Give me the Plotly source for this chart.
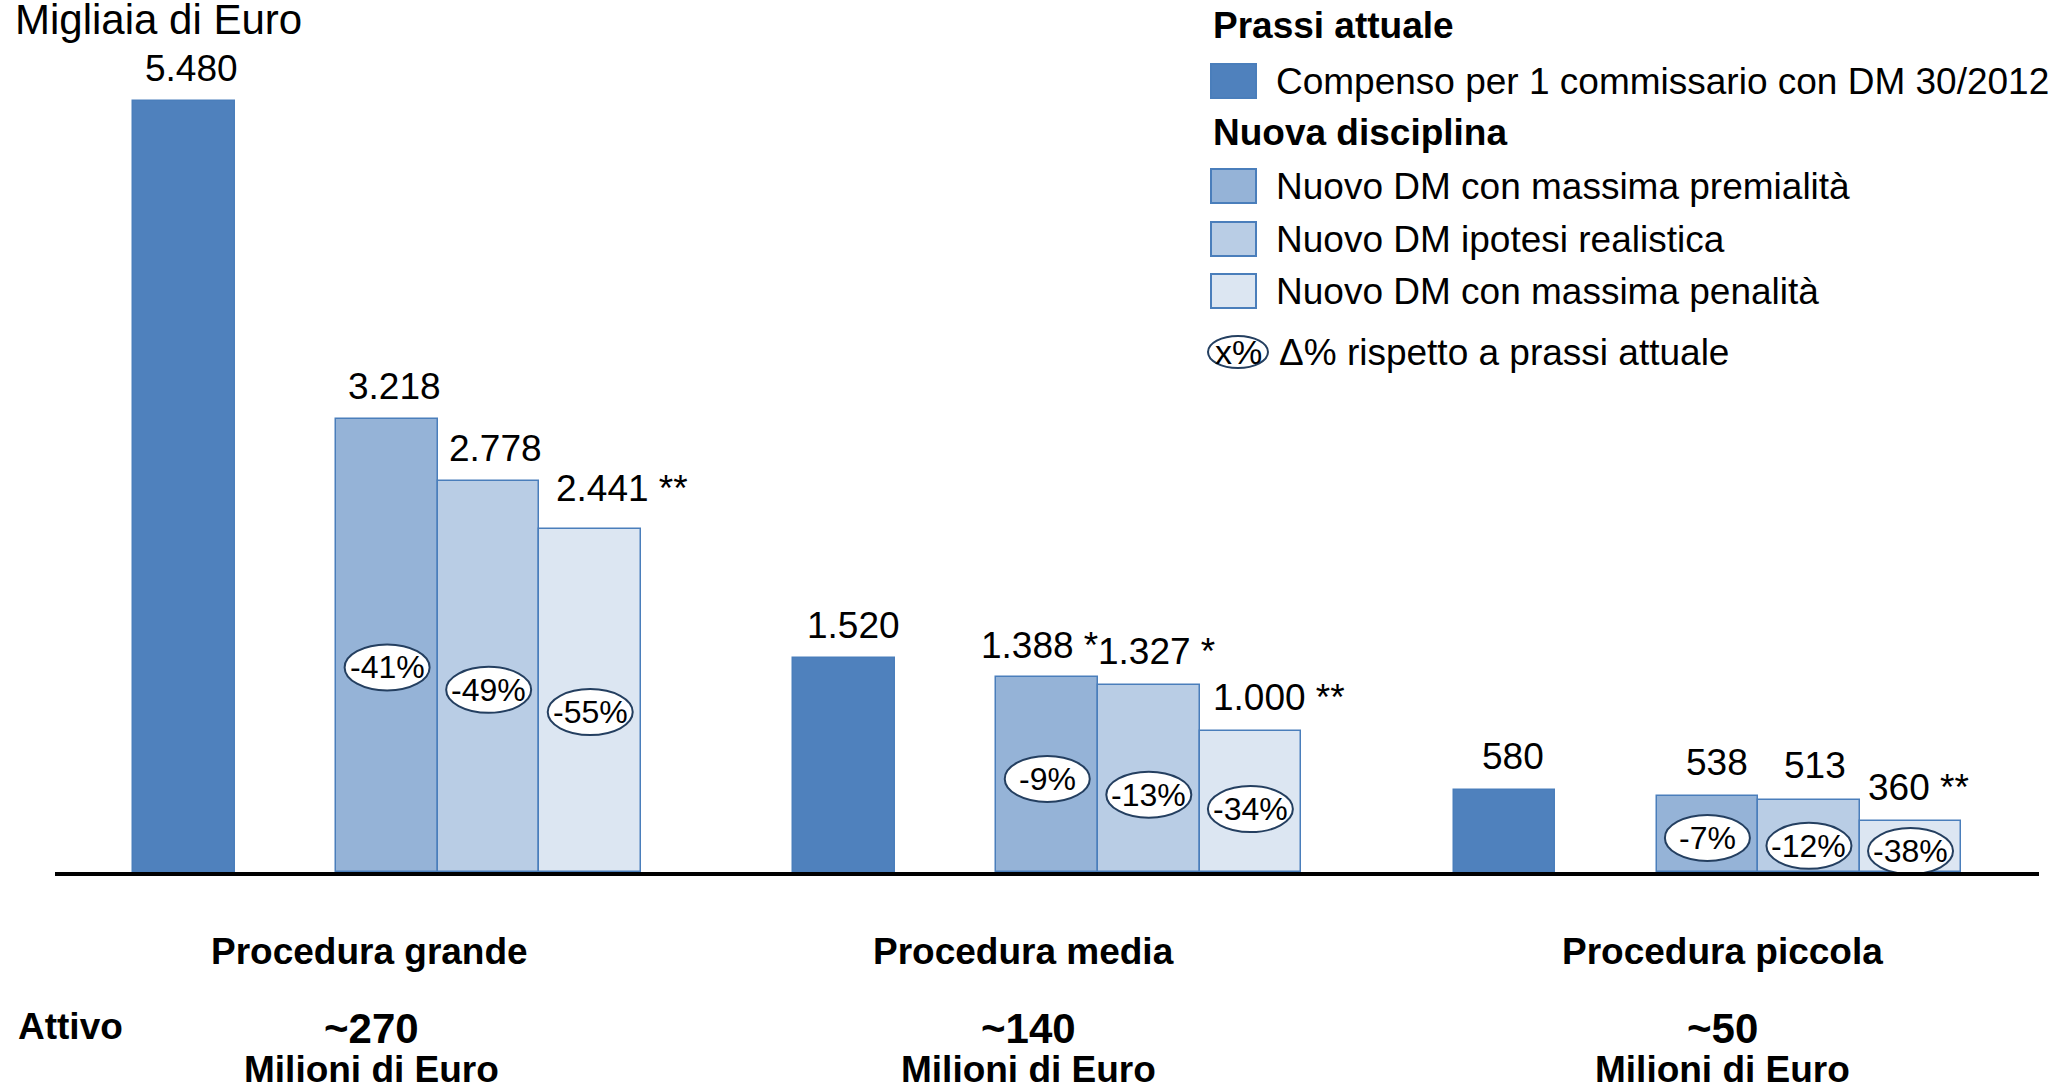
import plotly.graph_objects as go

# ---------------- data ----------------
categories = ["Procedura grande", "Procedura media", "Procedura piccola"]
attivo_values = ["~270", "~140", "~50"]
attivo_unit = "Milioni di Euro"

series_names = [
    "Compenso per 1 commissario con DM 30/2012",
    "Nuovo DM con massima premialità",
    "Nuovo DM ipotesi realistica",
    "Nuovo DM con massima penalità",
]
attuale = [5480, 1520, 580]
premialita = [3218, 1388, 538]
realistica = [2778, 1327, 513]
penalita = [2441, 1000, 360]

delta_premialita = [-41, -9, -7]
delta_realistica = [-49, -13, -12]
delta_penalita = [-55, -34, -38]

note_attuale = ["", "", ""]
note_premialita = ["", " *", ""]
note_realistica = ["", " *", ""]
note_penalita = [" **", " **", " **"]

# ---------------- layout / style constants ----------------
W, H = 2060, 1092
L, R, T, B = 55, 21, 28, 220
PW, PH = W - L - R, H - T - B
XR = [-1.27, 18.265]
YR = [0, 6000]
FONT = "Liberation Sans, Arial, sans-serif"
FS = 37

colors = ["#4F81BD", "#95B3D7", "#B9CDE5", "#DCE6F2"]
edge = "#4A7EBB"
oval_edge = "#243F60"

group_gap = 6.5
series_offset = [0, 2, 3, 4]
# label placement tweaks (pixels) and oval vertical positions (data units)
label_dx = [[5, 5, 5, 10], [7, -22, -7, 7], [7, 7, 4, -14]]
label_dy = [[10, 10, 10, 18], [10, 9, 11, 11], [11, 11, 12, 11]]
oval_y = [[1454, 1295, 1137], [662, 550, 447], [242, 186, 149]]
cat_label_dx = [1.83, 1.77, 2.15]
amount_dx = [1.85, 1.82, 2.15]

series = [attuale, premialita, realistica, penalita]
notes = [note_attuale, note_premialita, note_realistica, note_penalita]
deltas = [None, delta_premialita, delta_realistica, delta_penalita]


def fmt(v):
    return f"{v:,}".replace(",", ".")


def num_width(s, fs):
    w = 0
    for ch in s:
        w += 0.278 if ch == "." else 0.556
    return w * fs


def px(xp):
    return (xp - L) / PW


def py(yp):
    return (H - B - yp) / PH


fig = go.Figure()
annotations = []
shapes = []

for si, vals in enumerate(series):
    xs = [gi * group_gap + series_offset[si] for gi in range(len(categories))]
    fig.add_trace(go.Bar(
        x=xs, y=vals, width=1, name=series_names[si],
        marker=dict(color=colors[si], line=dict(color=edge, width=1.5)),
        hoverinfo="skip", showlegend=False,
    ))
    for gi, v in enumerate(vals):
        s = fmt(v)
        annotations.append(dict(
            x=xs[gi], y=v, xref="x", yref="y", text=s + notes[si][gi],
            showarrow=False, xanchor="left", yanchor="bottom",
            xshift=-num_width(s, FS) / 2 + label_dx[gi][si], yshift=label_dy[gi][si],
            font=dict(family=FONT, size=FS, color="black"),
        ))
        if deltas[si] is not None:
            yc = oval_y[gi][si - 1]
            hw = 42.5 / (PW / (XR[1] - XR[0]))
            hh = 23 / (PH / (YR[1] - YR[0]))
            shapes.append(dict(
                type="circle", xref="x", yref="y",
                x0=xs[gi] - hw, x1=xs[gi] + hw, y0=yc - hh, y1=yc + hh,
                fillcolor="white", line=dict(color=oval_edge, width=2), layer="above",
            ))
            annotations.append(dict(
                x=xs[gi], y=yc, xref="x", yref="y", text=f"{deltas[si][gi]}%",
                showarrow=False, xanchor="center", yanchor="middle",
                font=dict(family=FONT, size=32, color="black"),
            ))

# category labels and assets
for gi, cat in enumerate(categories):
    xc = gi * group_gap + cat_label_dx[gi]
    xa = gi * group_gap + amount_dx[gi]
    annotations.append(dict(x=xc, y=py(951), xref="x", yref="paper", text=f"<b>{cat}</b>",
                            showarrow=False, xanchor="center", yanchor="middle",
                            font=dict(family=FONT, size=FS, color="black")))
    annotations.append(dict(x=xa, y=py(1028), xref="x", yref="paper", text=f"<b>{attivo_values[gi]}</b>",
                            showarrow=False, xanchor="center", yanchor="middle",
                            font=dict(family=FONT, size=42, color="black")))
    annotations.append(dict(x=xa, y=py(1069), xref="x", yref="paper", text=f"<b>{attivo_unit}</b>",
                            showarrow=False, xanchor="center", yanchor="middle",
                            font=dict(family=FONT, size=FS, color="black")))

annotations.append(dict(x=px(16), y=py(1026), xref="paper", yref="paper", text="<b>Attivo</b>",
                        showarrow=False, xanchor="left", yanchor="middle",
                        font=dict(family=FONT, size=FS, color="black")))

# unit title
annotations.append(dict(x=px(13), y=py(34), xref="paper", yref="paper", text="Migliaia di Euro",
                        showarrow=False, xanchor="left", yanchor="bottom", yshift=-11,
                        font=dict(family=FONT, size=42, color="black")))

# custom legend
LX0, LX1 = 1211, 1256
TX = 1274
annotations.append(dict(x=px(LX0), y=py(26), xref="paper", yref="paper", text="<b>Prassi attuale</b>",
                        showarrow=False, xanchor="left", yanchor="middle",
                        font=dict(family=FONT, size=FS, color="black")))
annotations.append(dict(x=px(LX0), y=py(132), xref="paper", yref="paper", text="<b>Nuova disciplina</b>",
                        showarrow=False, xanchor="left", yanchor="middle",
                        font=dict(family=FONT, size=FS, color="black")))
legend_rows = [81, 186, 239, 291]
for si, yc in enumerate(legend_rows):
    shapes.append(dict(type="rect", xref="paper", yref="paper",
                       x0=px(LX0), x1=px(LX1), y0=py(yc + 17), y1=py(yc - 17),
                       fillcolor=colors[si], line=dict(color=edge, width=2)))
    annotations.append(dict(x=px(TX), y=py(yc), xref="paper", yref="paper", text=series_names[si],
                            showarrow=False, xanchor="left", yanchor="middle",
                            font=dict(family=FONT, size=FS, color="black")))
shapes.append(dict(type="circle", xref="paper", yref="paper",
                   x0=px(1208), x1=px(1268), y0=py(352 + 16), y1=py(352 - 16),
                   fillcolor="white", line=dict(color=oval_edge, width=2)))
annotations.append(dict(x=px(1238), y=py(352), xref="paper", yref="paper", text="x%",
                        showarrow=False, xanchor="center", yanchor="middle",
                        font=dict(family=FONT, size=34, color="black")))
annotations.append(dict(x=px(1277), y=py(352), xref="paper", yref="paper", text="Δ% rispetto a prassi attuale",
                        showarrow=False, xanchor="left", yanchor="middle",
                        font=dict(family=FONT, size=FS, color="black")))

fig.update_layout(
    width=W, height=H,
    margin=dict(l=L, r=R, t=T, b=B, pad=0),
    paper_bgcolor="white", plot_bgcolor="white",
    barmode="overlay", bargap=0,
    xaxis=dict(range=XR, showticklabels=False, ticks="", showgrid=False, zeroline=False,
               showline=True, linecolor="black", linewidth=4, fixedrange=True),
    yaxis=dict(range=YR, visible=False, showgrid=False, zeroline=False, fixedrange=True),
    annotations=annotations, shapes=shapes,
    font=dict(family=FONT, color="black"),
)

fig.write_html("out.html", config={"displayModeBar": False},
               post_script="document.body.style.margin='0';document.body.style.overflow='hidden';")
